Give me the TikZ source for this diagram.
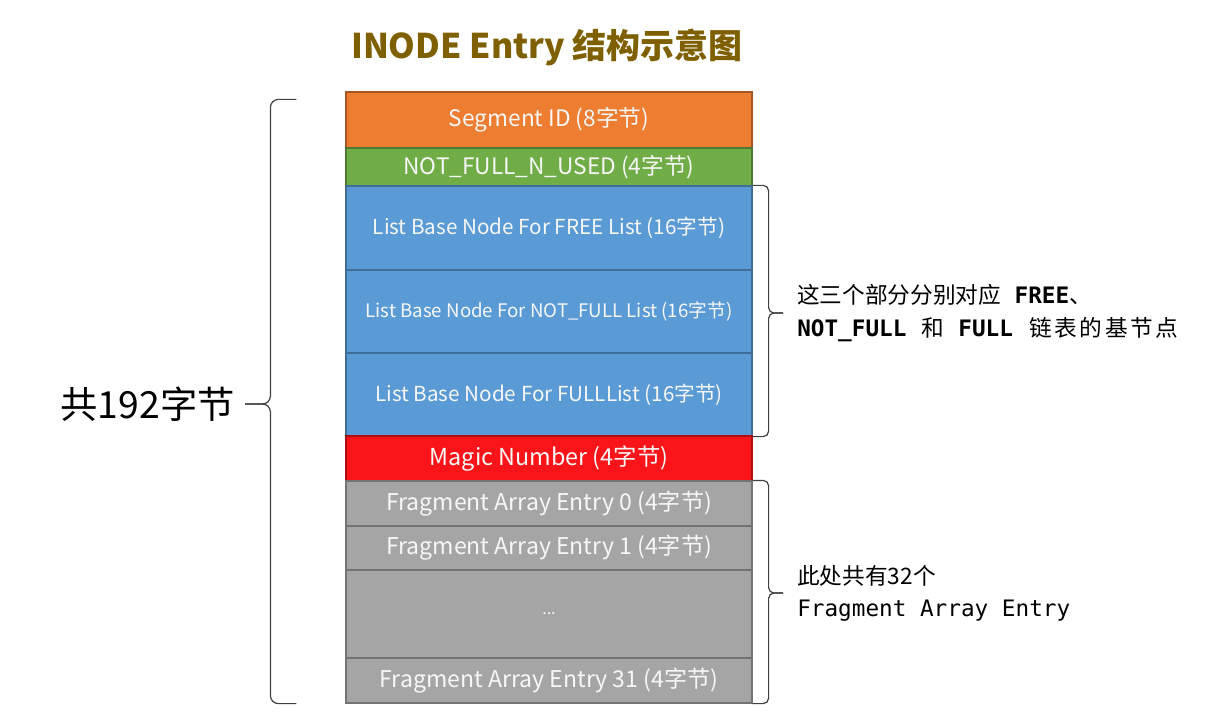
\documentclass[tikz,border=0pt]{standalone}
\usepackage{fontspec}
\setmainfont{Noto Sans CJK SC}
\newfontfamily\monof{DejaVu Sans Mono}
\definecolor{segorange}{HTML}{ED7D31}
\definecolor{usedgreen}{HTML}{70AD47}
\definecolor{listblue}{HTML}{5B9BD5}
\definecolor{magicred}{HTML}{F81418}
\definecolor{fraggray}{HTML}{A5A5A5}
\definecolor{titlegold}{HTML}{7F6000}
\tikzset{
  cell/.style={draw=#1!70!black, fill=#1, line width=0.9pt, minimum width=304.5pt, inner sep=0pt, text=white!94!gray},
  bracearm/.style={draw=black!75, line width=0.9pt, rounded corners=#1},
}
\begin{document}
\begin{tikzpicture}[x=0.75pt, y=-0.75pt]
            \useasboundingbox (0,0) rectangle (1230,723);
            \node[font=\bfseries\fontsize{25.5}{25.5}\selectfont, text=titlegold] (title) at (547,47) {INODE Entry 结构示意图};
            \foreach \n/\t/\b/\c/\s/\txt in {
                seg/92/148/segorange/17/{Segment ID (8字节)},
                nfnu/148/186/usedgreen/17/{NOT\_FULL\_N\_USED (4字节)},
                free/186/270/listblue/15.5/{List Base Node For FREE List (16字节)},
                notfull/270/353/listblue/14/{List Base Node For NOT\_FULL List (16字节)},
                full/353/436/listblue/15.5/{List Base Node For FULLList (16字节)},
                magic/436/481/magicred/17.5/{Magic Number (4字节)},
                f0/481/526/fraggray/17.3/{Fragment Array Entry 0 (4字节)},
                f1/526/570/fraggray/17.3/{Fragment Array Entry 1 (4字节)},
                dots/570/658/fraggray/12/{...},
                f31/658/703/fraggray/17.3/{Fragment Array Entry 31 (4字节)}}
                \node[cell=\c, minimum height={(\b-\t)*0.75pt}, font=\fontsize{\s}{\s}\selectfont] (\n) at (549,{(\t+\b)/2}) {\txt};
            \node[font=\fontsize{28}{28}\selectfont, anchor=east, inner sep=0pt] (total) at (235,404) {共192字节};
            \node[font=\fontsize{17}{24.75}\selectfont, anchor=west, align=left, inner sep=0pt] (listnote) at (797,313)
                {这三个部分分别对应\hspace{10pt}{\monof\bfseries FREE}、\\{\monof\bfseries NOT\_FULL}\hspace{11pt}和\hspace{11pt}{\monof\bfseries FULL}\hspace{12pt}链\hspace{2pt}表\hspace{2pt}的\hspace{2pt}基\hspace{2pt}节\hspace{2pt}点};
            \node[font=\fontsize{17}{24}\selectfont, anchor=west, align=left, inner sep=0pt] (fragnote) at (797,593)
                {此处共有32个\\{\monof Fragment Array Entry}};
            \coordinate (ltop) at ([xshift=-36.75pt,yshift=-6pt]seg.north west);
            \coordinate (lbot) at ([xshift=-36.75pt]f31.south west);
            \coordinate (ltip) at ([xshift=7.5pt]total.east);
            \draw[bracearm=6pt] (ltop) -- ++(-19.5pt,0) |- (ltip);
            \draw[bracearm=6pt] (lbot) -- ++(-19.5pt,0) |- (ltip);
            \coordinate (ftip) at ([xshift=-10.5pt]listnote.west);
            \draw[bracearm=4pt] (free.north east) -- ++(12pt,0) |- (ftip);
            \draw[bracearm=4pt] (full.south east) -- ++(12pt,0) |- (ftip);
            \coordinate (gtip) at ([xshift=-10.5pt]fragnote.west);
            \draw[bracearm=4pt] (f0.north east) -- ++(12pt,0) |- (gtip);
            \draw[bracearm=4pt] (f31.south east) -- ++(12pt,0) |- (gtip);
        \end{tikzpicture}
\end{document}
